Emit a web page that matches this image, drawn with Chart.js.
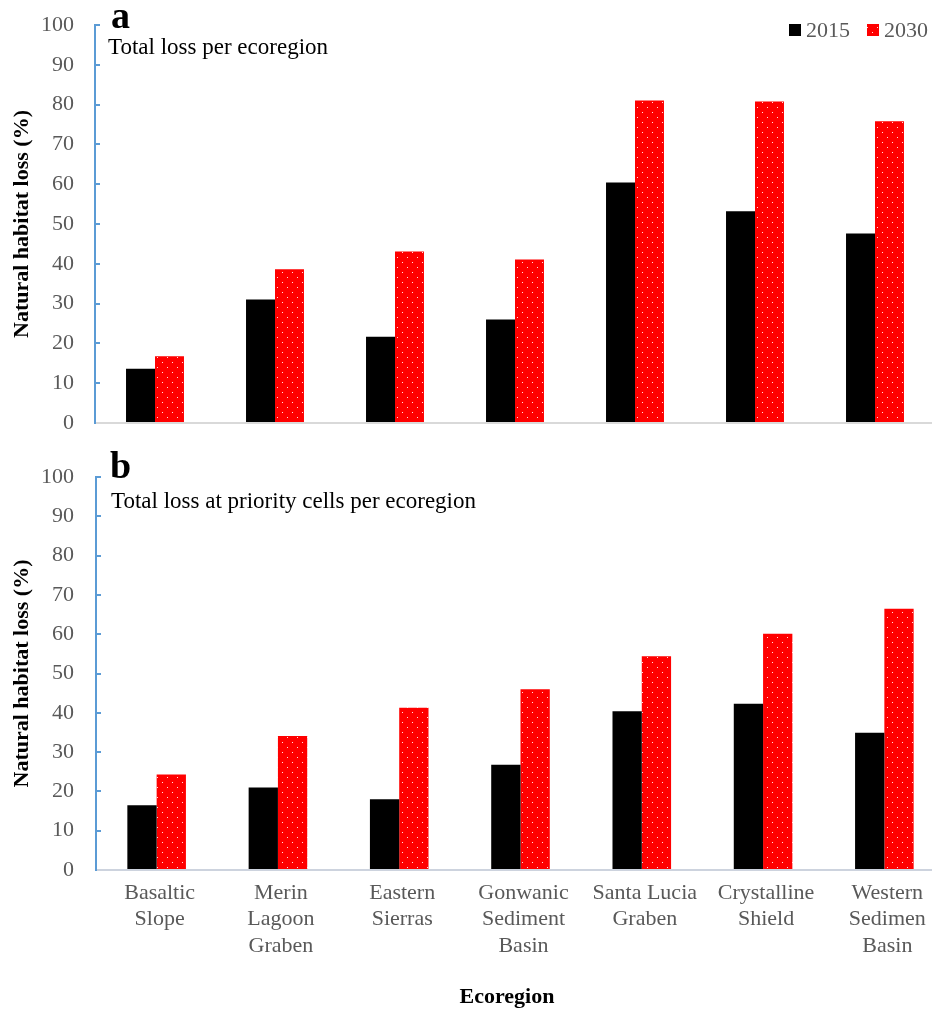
<!DOCTYPE html>
<html>
<head>
<meta charset="utf-8">
<script src="https://cdn.jsdelivr.net/npm/chart.js@4.4.1/dist/chart.umd.min.js"></script>
<style>
  html, body { margin: 0; padding: 0; background: #ffffff; overflow: hidden; width: 932px; height: 1009px; }
  #boxA { position: absolute; left: 0; top: 0; }
  #boxB { position: absolute; left: 0; top: 440px; }
  canvas { display: block; }
</style>
</head>
<body>
<div id="boxA"><canvas id="chartA" width="950" height="440"></canvas></div>
<div id="boxB"><canvas id="chartB" width="950" height="570"></canvas></div>
<script>
// Ecoregion names, split into the lines shown under each group
const ecoregions = [
  ["Basaltic", "Slope"],
  ["Merin", "Lagoon", "Graben"],
  ["Eastern", "Sierras"],
  ["Gonwanic", "Sediment", "Basin"],
  ["Santa Lucia", "Graben"],
  ["Crystalline", "Shield"],
  ["Western", "Sedimen", "Basin"]
];
const years = ["2015", "2030"];

// (a) total natural habitat loss per ecoregion, %
const totalLoss2015 = [13.6, 31.0, 21.7, 26.0, 60.4, 53.2, 47.6];
const totalLoss2030 = [16.8, 38.6, 43.1, 41.1, 81.0, 80.8, 75.8];

// (b) loss at priority cells per ecoregion, %
const priorityLoss2015 = [16.5, 21.0, 18.0, 26.8, 40.4, 42.3, 34.9];
const priorityLoss2030 = [24.3, 34.1, 41.3, 46.0, 54.4, 60.1, 66.5];

const yMin = 0, yMax = 100, yStep = 10;

const SERIF = '"Liberation Serif", "Times New Roman", serif';
const AXIS_BLUE = '#5B9BD5';
const TICK_GREY = '#595959';

// Red fill sprinkled with small white dots
function dottedRed() {
  const tile = document.createElement('canvas');
  tile.width = 10; tile.height = 10;
  const t = tile.getContext('2d');
  t.fillStyle = '#FF0000';
  t.fillRect(0, 0, 10, 10);
  t.fillStyle = 'rgba(255,235,235,0.95)';
  t.fillRect(2, 2, 1, 1);
  t.fillRect(7, 7, 1, 1);
  return document.getElementById('chartA').getContext('2d').createPattern(tile, 'repeat');
}
const redFill = dottedRed();

// Panel letter, panel subtitle and optional axis caption
const panelText = {
  id: 'panelText',
  afterDraw(chart, args, opts) {
    const ctx = chart.ctx;
    ctx.save();
    ctx.fillStyle = '#000000';
    ctx.textAlign = 'left';
    ctx.textBaseline = 'alphabetic';
    ctx.font = 'bold 38px ' + SERIF;
    ctx.fillText(opts.letter, opts.letterX, opts.letterY);
    ctx.font = '23px ' + SERIF;
    ctx.fillText(opts.subtitle, opts.subX, opts.subY);
    if (opts.xTitle) {
      ctx.textAlign = 'center';
      ctx.textBaseline = 'middle';
      ctx.font = 'bold 22px ' + SERIF;
      ctx.fillText(opts.xTitle, opts.xTitleX, opts.xTitleY);
    }
    ctx.restore();
  }
};

// Legend with square swatches, drawn from the datasets
const swatchLegend = {
  id: 'swatchLegend',
  afterDraw(chart, args, opts) {
    if (!opts.show) return;
    const ctx = chart.ctx;
    ctx.save();
    ctx.font = '22px ' + SERIF;
    ctx.textAlign = 'left';
    ctx.textBaseline = 'alphabetic';
    let x = opts.x;
    chart.data.datasets.forEach(ds => {
      ctx.fillStyle = ds.backgroundColor;
      ctx.fillRect(x, opts.y - 12, 12, 12);
      ctx.fillStyle = TICK_GREY;
      ctx.fillText(ds.label, x + 17, opts.y + 1);
      x += 17 + ctx.measureText(ds.label).width + 17;
    });
    ctx.restore();
  }
};

function makeChart(canvasId, v2015, v2030, cfg) {
  return new Chart(document.getElementById(canvasId), {
    type: 'bar',
    data: {
      labels: ecoregions,
      datasets: [
        { label: years[0], data: v2015, backgroundColor: '#000000', borderWidth: 0 },
        { label: years[1], data: v2030, backgroundColor: redFill, borderWidth: 0 }
      ]
    },
    options: {
      responsive: false,
      animation: false,
      layout: { padding: { left: 0, right: cfg.padRight, top: cfg.padTop, bottom: 0 } },
      datasets: { bar: { barPercentage: 1.0, categoryPercentage: 0.483 } },
      plugins: {
        legend: { display: false },
        tooltip: { enabled: false },
        panelText: cfg.text,
        swatchLegend: cfg.legend
      },
      scales: {
        x: {
          grid: { display: false, drawTicks: false },
          border: { display: true, color: cfg.baseColor, width: 2 },
          ticks: {
            display: cfg.showX,
            color: TICK_GREY,
            font: { family: SERIF, size: 22 },
            padding: 10,
            labelOffset: 3,
            maxRotation: 0,
            autoSkip: false
          },
          afterFit: s => { s.height = cfg.xHeight; }
        },
        y: {
          min: yMin, max: yMax,
          grid: { drawOnChartArea: false, drawTicks: true, tickLength: -5, color: AXIS_BLUE, lineWidth: 2 },
          border: { display: true, color: AXIS_BLUE, width: 2 },
          ticks: {
            stepSize: yStep,
            color: TICK_GREY,
            font: { family: SERIF, size: 22 },
            padding: cfg.yPad
          },
          title: {
            display: true,
            text: 'Natural habitat loss (%)',
            color: '#000000',
            font: { family: SERIF, size: 22, weight: 'bold' },
            padding: { top: 9, bottom: 0 }
          },
          afterFit: s => {
            s.width = cfg.yWidth;
            s.paddingTop = 0;
            s.paddingBottom = 0;
          }
        }
      }
    },
    plugins: [panelText, swatchLegend]
  });
}

makeChart('chartA', totalLoss2015, totalLoss2030, {
  padRight: 15, padTop: 25, xHeight: 17, yWidth: 95, yPad: 26,
  showX: false, baseColor: '#D9D9D9',
  text: { letter: 'a', letterX: 111, letterY: 28, subtitle: 'Total loss per ecoregion', subX: 108, subY: 54 },
  legend: { show: true, x: 789, y: 36 }
});

makeChart('chartB', priorityLoss2015, priorityLoss2030, {
  padRight: 5, padTop: 37, xHeight: 140, yWidth: 96, yPad: 27,
  showX: true, baseColor: '#CDD3DE',
  text: { letter: 'b', letterX: 110, letterY: 478 - 440, subtitle: 'Total loss at priority cells per ecoregion', subX: 111, subY: 68,
          xTitle: 'Ecoregion', xTitleX: 507, xTitleY: 557 },
  legend: { show: false }
});
</script>
</body>
</html>
